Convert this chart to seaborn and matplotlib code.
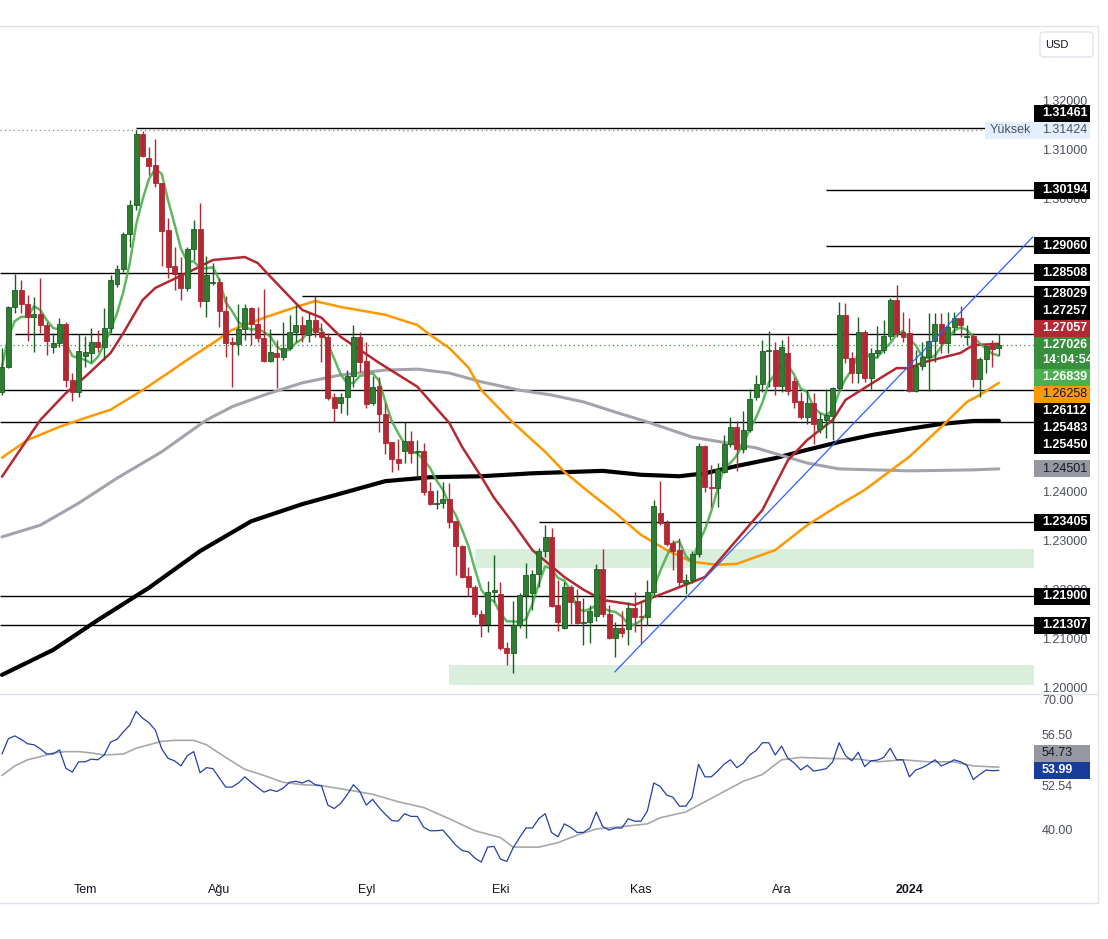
import numpy as np
import pandas as pd
import matplotlib
matplotlib.use("Agg")
import matplotlib.pyplot as plt
from matplotlib.patches import Rectangle, FancyBboxPatch
from matplotlib.lines import Line2D
import matplotlib.transforms as mtrans
import seaborn as sns

# ---------------- daily candles (GBP/USD, mid June 2023 - mid Jan 2024)
opens = [1.2607, 1.2659, 1.2781, 1.2816, 1.2787, 1.2761, 1.2767, 1.2744, 1.2699, 1.2707,
         1.2746, 1.2632, 1.2607, 1.2681, 1.2687, 1.2709, 1.2699, 1.2738, 1.2828, 1.2859,
         1.2930, 1.2989, 1.3135, 1.3086, 1.3072, 1.3034, 1.2938, 1.2865, 1.2849, 1.2820,
         1.2900, 1.2940, 1.2793, 1.2830, 1.2832, 1.2773, 1.2709, 1.2705, 1.2736, 1.2779,
         1.2746, 1.2718, 1.2671, 1.2687, 1.2679, 1.2697, 1.2730, 1.2744, 1.2724, 1.2754,
         1.2730, 1.2720, 1.2597, 1.2585, 1.2597, 1.2640, 1.2720, 1.2671, 1.2585, 1.2620,
         1.2562, 1.2505, 1.2471, 1.2487, 1.2507, 1.2485, 1.2487, 1.2405, 1.2378, 1.2380,
         1.2388, 1.2343, 1.2292, 1.2231, 1.2209, 1.2154, 1.2133, 1.2199, 1.2195, 1.2084,
         1.2074, 1.2131, 1.2193, 1.2197, 1.2235, 1.2282, 1.2311, 1.2172, 1.2125, 1.2209,
         1.2180, 1.2135, 1.2137, 1.2149, 1.2245, 1.2154, 1.2104, 1.2125, 1.2123, 1.2166,
         1.2149, 1.2147, 1.2199, 1.2360, 1.2339, 1.2298, 1.2284, 1.2217, 1.2223, 1.2276,
         1.2497, 1.2413, 1.2411, 1.2444, 1.2501, 1.2536, 1.2491, 1.2530, 1.2597, 1.2624,
         1.2691, 1.2693, 1.2620, 1.2687, 1.2630, 1.2589, 1.2556, 1.2585, 1.2532, 1.2550,
         1.2558, 1.2615, 1.2765, 1.2677, 1.2646, 1.2730, 1.2636, 1.2687, 1.2693, 1.2722,
         1.2795, 1.2730, 1.2728, 1.2609, 1.2661, 1.2679, 1.2711, 1.2746, 1.2707, 1.2740,
         1.2759, 1.2720, 1.2722, 1.2634, 1.2675, 1.2703, 1.2697]
highs = [1.2697, 1.2783, 1.2849, 1.2836, 1.2806, 1.2802, 1.2841, 1.2750, 1.2728, 1.2759,
         1.2750, 1.2646, 1.2726, 1.2722, 1.2738, 1.2734, 1.2779, 1.2847, 1.2867, 1.2934,
         1.3000, 1.3142, 1.3140, 1.3108, 1.3124, 1.3035, 1.2963, 1.2904, 1.2883, 1.2904,
         1.2959, 1.2994, 1.2885, 1.2871, 1.2841, 1.2804, 1.2720, 1.2787, 1.2787, 1.2781,
         1.2781, 1.2818, 1.2736, 1.2714, 1.2750, 1.2765, 1.2785, 1.2763, 1.2769, 1.2803,
         1.2748, 1.2728, 1.2605, 1.2605, 1.2652, 1.2744, 1.2730, 1.2709, 1.2640, 1.2638,
         1.2585, 1.2505, 1.2511, 1.2546, 1.2528, 1.2509, 1.2503, 1.2423, 1.2407, 1.2423,
         1.2421, 1.2343, 1.2294, 1.2250, 1.2213, 1.2162, 1.2221, 1.2274, 1.2219, 1.2096,
         1.2180, 1.2197, 1.2258, 1.2243, 1.2288, 1.2335, 1.2329, 1.2223, 1.2219, 1.2213,
         1.2205, 1.2186, 1.2172, 1.2256, 1.2286, 1.2172, 1.2137, 1.2160, 1.2178, 1.2199,
         1.2178, 1.2223, 1.2387, 1.2425, 1.2346, 1.2305, 1.2309, 1.2235, 1.2282, 1.2503,
         1.2499, 1.2458, 1.2462, 1.2519, 1.2556, 1.2548, 1.2569, 1.2613, 1.2642, 1.2714,
         1.2732, 1.2709, 1.2714, 1.2722, 1.2638, 1.2607, 1.2611, 1.2605, 1.2564, 1.2613,
         1.2618, 1.2791, 1.2789, 1.2689, 1.2761, 1.2734, 1.2697, 1.2742, 1.2754, 1.2800,
         1.2826, 1.2771, 1.2759, 1.2693, 1.2709, 1.2769, 1.2769, 1.2769, 1.2771, 1.2771,
         1.2783, 1.2744, 1.2728, 1.2679, 1.2703, 1.2714, 1.2726]
lows = [1.2601, 1.2657, 1.2769, 1.2769, 1.2711, 1.2689, 1.2728, 1.2683, 1.2687, 1.2699,
        1.2618, 1.2589, 1.2597, 1.2659, 1.2669, 1.2689, 1.2673, 1.2728, 1.2822, 1.2853,
        1.2904, 1.2979, 1.3088, 1.3051, 1.3026, 1.2865, 1.2841, 1.2816, 1.2795, 1.2814,
        1.2877, 1.2781, 1.2761, 1.2826, 1.2740, 1.2679, 1.2618, 1.2683, 1.2714, 1.2703,
        1.2709, 1.2669, 1.2669, 1.2616, 1.2673, 1.2693, 1.2709, 1.2709, 1.2709, 1.2720,
        1.2669, 1.2591, 1.2546, 1.2564, 1.2560, 1.2618, 1.2648, 1.2575, 1.2581, 1.2526,
        1.2481, 1.2444, 1.2448, 1.2462, 1.2462, 1.2434, 1.2397, 1.2376, 1.2368, 1.2370,
        1.2329, 1.2233, 1.2227, 1.2190, 1.2148, 1.2106, 1.2117, 1.2178, 1.2080, 1.2049,
        1.2033, 1.2125, 1.2105, 1.2162, 1.2209, 1.2270, 1.2168, 1.2119, 1.2123, 1.2133,
        1.2133, 1.2090, 1.2094, 1.2139, 1.2147, 1.2102, 1.2066, 1.2106, 1.2090, 1.2117,
        1.2094, 1.2131, 1.2190, 1.2335, 1.2292, 1.2243, 1.2209, 1.2195, 1.2217, 1.2270,
        1.2403, 1.2372, 1.2372, 1.2442, 1.2495, 1.2446, 1.2483, 1.2526, 1.2591, 1.2607,
        1.2618, 1.2601, 1.2607, 1.2601, 1.2575, 1.2552, 1.2542, 1.2501, 1.2523, 1.2513,
        1.2509, 1.2611, 1.2667, 1.2626, 1.2626, 1.2628, 1.2613, 1.2677, 1.2687, 1.2714,
        1.2720, 1.2709, 1.2607, 1.2607, 1.2652, 1.2609, 1.2669, 1.2687, 1.2687, 1.2724,
        1.2720, 1.2703, 1.2618, 1.2597, 1.2646, 1.2659, 1.2683]
closes = [1.2659, 1.2781, 1.2816, 1.2787, 1.2761, 1.2767, 1.2744, 1.2711, 1.2707, 1.2746,
          1.2632, 1.2607, 1.2691, 1.2689, 1.2709, 1.2699, 1.2738, 1.2836, 1.2859, 1.2930,
          1.2989, 1.3135, 1.3090, 1.3070, 1.3034, 1.2936, 1.2863, 1.2849, 1.2820, 1.2900,
          1.2940, 1.2793, 1.2847, 1.2832, 1.2773, 1.2707, 1.2705, 1.2736, 1.2779, 1.2746,
          1.2718, 1.2671, 1.2689, 1.2679, 1.2697, 1.2730, 1.2744, 1.2728, 1.2754, 1.2730,
          1.2720, 1.2595, 1.2575, 1.2597, 1.2640, 1.2720, 1.2669, 1.2583, 1.2618, 1.2562,
          1.2503, 1.2471, 1.2462, 1.2507, 1.2483, 1.2487, 1.2403, 1.2378, 1.2380, 1.2388,
          1.2341, 1.2292, 1.2229, 1.2209, 1.2154, 1.2133, 1.2199, 1.2203, 1.2084, 1.2074,
          1.2131, 1.2193, 1.2233, 1.2235, 1.2282, 1.2311, 1.2170, 1.2137, 1.2209, 1.2178,
          1.2135, 1.2137, 1.2160, 1.2245, 1.2154, 1.2104, 1.2125, 1.2115, 1.2166, 1.2147,
          1.2147, 1.2199, 1.2374, 1.2339, 1.2296, 1.2282, 1.2219, 1.2223, 1.2276, 1.2497,
          1.2413, 1.2411, 1.2450, 1.2501, 1.2536, 1.2491, 1.2530, 1.2593, 1.2624, 1.2691,
          1.2693, 1.2620, 1.2699, 1.2609, 1.2587, 1.2556, 1.2585, 1.2542, 1.2552, 1.2560,
          1.2615, 1.2765, 1.2677, 1.2646, 1.2730, 1.2636, 1.2687, 1.2693, 1.2722, 1.2795,
          1.2728, 1.2720, 1.2609, 1.2661, 1.2679, 1.2711, 1.2746, 1.2707, 1.2740, 1.2759,
          1.2744, 1.2722, 1.2634, 1.2675, 1.2701, 1.2695, 1.27026]

rsi = [57.77, 61.31, 61.94, 61.16, 60.13, 59.90, 58.95, 57.77, 57.77, 58.72,
       54.47, 53.60, 55.96, 55.96, 56.59, 56.43, 57.54, 60.53, 61.16, 62.89,
       64.46, 67.61, 66.04, 65.01, 63.28, 58.95, 56.75, 56.20, 55.02, 57.38,
       58.32, 53.44, 54.62, 54.39, 52.26, 50.14, 50.14, 51.08, 52.50, 51.24,
       50.06, 48.96, 49.51, 49.11, 49.90, 51.24, 51.47, 51.08, 51.71, 50.69,
       50.45, 45.97, 45.18, 46.36, 48.33, 50.69, 49.11, 45.97, 47.30, 45.41,
       43.84, 42.42, 42.27, 44.00, 43.37, 43.37, 40.85, 40.06, 40.06, 40.22,
       38.49, 36.76, 35.50, 35.18, 33.77, 32.82, 36.28, 36.44, 33.53, 32.98,
       36.13, 38.49, 40.69, 40.69, 42.82, 44.00, 39.67, 38.65, 41.64, 40.85,
       39.67, 39.67, 40.69, 44.39, 41.01, 40.22, 40.69, 40.69, 42.82, 42.27,
       42.27, 44.63, 51.08, 50.29, 48.33, 47.78, 45.73, 45.73, 47.78, 55.41,
       52.50, 52.50, 53.84, 55.41, 56.43, 54.62, 55.65, 57.54, 58.56, 60.37,
       60.37, 57.54, 59.58, 56.75, 55.65, 54.07, 55.17, 53.84, 54.07, 54.39,
       55.96, 60.37, 57.38, 56.20, 58.17, 54.86, 56.20, 56.36, 56.98, 59.11,
       56.43, 56.43, 52.50, 54.07, 54.62, 55.41, 56.43, 55.02, 55.65, 56.43,
       55.96, 55.17, 51.87, 53.05, 54.07, 53.91, 53.99]
rsi_ma_idx = [0, 2, 4, 6, 8, 10, 12, 14, 16, 19, 21, 25, 27, 30, 32, 35, 38, 41, 44, 47,
              50, 54, 58, 62, 66, 70, 74, 78, 80, 84, 87, 90, 93, 97, 101, 103, 107, 110,
              113, 116, 119, 122, 125, 129, 134, 137, 141, 145, 149, 152, 156]
rsi_ma_val = [52.81, 55.02, 56.43, 57.14, 58.01, 58.32, 58.32, 58.01, 57.54, 57.77,
              59.11, 60.68, 60.92, 60.92, 59.90, 56.98, 54.23, 52.81, 51.24, 50.69,
              50.45, 49.51, 48.48, 46.75, 45.41, 42.82, 40.06, 38.49, 36.28, 36.28,
              37.31, 39.04, 40.46, 41.01, 41.64, 43.05, 44.39, 46.75, 49.11, 51.47,
              53.05, 56.43, 56.98, 56.75, 56.59, 55.96, 56.43, 55.96, 55.96, 55.02, 54.73]

# ---------------- moving averages (candle index, price)
ma20_idx = [0, 6, 10, 13, 17, 19, 22, 24, 29, 33, 38, 40, 42, 45, 47, 50, 53, 59, 65, 70,
            72, 75, 77, 80, 83, 88, 91, 94, 99, 102, 105, 110, 114, 119, 123, 126, 130, 132,
            137, 140, 142, 144, 150, 152, 156]
ma20_val = [1.2434, 1.2550, 1.2605, 1.2638, 1.2687, 1.2728, 1.2795, 1.2820, 1.2851, 1.2877,
            1.2883, 1.2871, 1.2843, 1.2802, 1.2775, 1.2759, 1.2720, 1.2667, 1.2618, 1.2544,
            1.2495, 1.2434, 1.2391, 1.2339, 1.2284, 1.2229, 1.2203, 1.2182, 1.2172, 1.2188,
            1.2203, 1.2229, 1.2290, 1.2366, 1.2468, 1.2509, 1.2550, 1.2591, 1.2632, 1.2656,
            1.2656, 1.2667, 1.2687, 1.2703, 1.27057]
ma50_idx = [0, 4, 9, 13, 17, 22, 26, 29, 33, 36, 41, 46, 49, 53, 60, 65, 67, 70, 73, 75,
            80, 85, 88, 92, 96, 100, 104, 108, 112, 115, 121, 126, 131, 135, 142, 147, 151,
            153, 156]
ma50_val = [1.2473, 1.2509, 1.2536, 1.2554, 1.2571, 1.2611, 1.2646, 1.2673, 1.2707, 1.2734,
            1.2759, 1.2781, 1.2793, 1.2781, 1.2765, 1.2744, 1.2724, 1.2697, 1.2657, 1.2611,
            1.2544, 1.2485, 1.2444, 1.2401, 1.2360, 1.2315, 1.2284, 1.2260, 1.2254, 1.2256,
            1.2284, 1.2335, 1.2376, 1.2407, 1.2475, 1.2536, 1.2587, 1.2601, 1.26258]
ma100_idx = [0, 6, 12, 18, 25, 32, 36, 41, 47, 53, 60, 65, 70, 75, 81, 86, 91, 96, 101,
             108, 118, 126, 131, 142, 152, 156]
ma100_val = [1.2311, 1.2335, 1.2380, 1.2431, 1.2485, 1.2550, 1.2577, 1.2601, 1.2626, 1.2642,
             1.2652, 1.2654, 1.2646, 1.2628, 1.2611, 1.2601, 1.2587, 1.2566, 1.2546, 1.2515,
             1.2493, 1.2462, 1.2450, 1.2446, 1.2448, 1.24501]
ma200_idx = [0, 8, 15, 23, 31, 39, 47, 52, 60, 67, 75, 83, 94, 100, 106, 110, 115, 121,
             126, 131, 136, 142, 147, 152, 156]
ma200_val = [1.2029, 1.2080, 1.2141, 1.2207, 1.2282, 1.2343, 1.2378, 1.2396, 1.2425, 1.2433,
             1.2435, 1.2441, 1.2446, 1.2438, 1.2435, 1.2441, 1.2456, 1.2472, 1.2489, 1.2505,
             1.2519, 1.2532, 1.2542, 1.2548, 1.25483]

# ---------------- drawings
level_prices = [1.31461, 1.30194, 1.29060, 1.28508, 1.28029, 1.27257, 1.26112, 1.25450,
                1.23405, 1.21900, 1.21307]
level_from = [21, 129, 129, None, 47, 2, None, None, 84, None, None]
zone_lo = [1.2248, 1.2009]
zone_hi = [1.2287, 1.2050]
zone_from = [74, 70]
trend_x = [95.9, 161.3]
trend_y = [1.2035, 1.2924]

last_price = 1.27026
high_price = 1.31424
countdown = "14:04:54"

month_names = ["Tem", "Ağu", "Eyl", "Eki", "Kas", "Ara", "2024"]
month_idx = [13, 34, 57, 78, 100, 122, 142]

price_ticks = [1.32, 1.31, 1.30, 1.29, 1.28, 1.27, 1.26, 1.25, 1.24, 1.23, 1.22, 1.21, 1.20]
tag_vals = [1.31461, 1.31424, 1.30194, 1.29060, 1.28508, 1.28029, 1.27257, 1.27057, 1.27026,
            1.26839, 1.26258, 1.26112, 1.25483, 1.25450, 1.24501, 1.23405, 1.21900, 1.21307]
tag_kind = ["line", "high", "line", "line", "line", "line", "line", "ma20", "last",
            "ma5", "ma50", "line", "line", "line", "ma100", "line", "line", "line"]

rsi_ticks = [70, 40]
rsi_tag_vals = [56.50, 54.73, 53.99, 52.54]
rsi_tag_kind = ["plain", "rsima", "rsi", "plain"]

# ---------------- colours
UP, UP_EDGE = "#2e7d32", "#1b5e20"
DN = "#b22833"
C_MA5, C_MA20, C_MA50, C_MA100, C_MA200 = "#4caf50", "#b22833", "#ff9800", "#a3a3ad", "#000000"
TXT = "#4a4f5c"
GRID = "#e0e3eb"
tag_style = {
    "line": ("#000000", "white", "bold"),
    "high": ("#e3effd", "#4a4f5c", "normal"),
    "ma20": (C_MA20, "white", "bold"),
    "last": ("#388e3c", "white", "bold"),
    "ma5": (C_MA5, "white", "bold"),
    "ma50": (C_MA50, "#131722", "normal"),
    "ma100": ("#9598a1", "#131722", "normal"),
    "rsima": ("#9598a1", "#131722", "normal"),
    "rsi": ("#173c9c", "white", "bold"),
    "plain": (None, TXT, "normal"),
}
ANCHORS = ("last", "high", "rsi")

sns.set_theme(style="white")
plt.rcParams["font.family"] = ["Liberation Sans", "DejaVu Sans"]

W, H = 1108, 939
fig = plt.figure(figsize=(W / 100, H / 100), dpi=100)
fig.patch.set_facecolor("white")


def fx(px):
    return px / W


def fy(py):
    return 1 - py / H


PLOT_R = 1034
ax = fig.add_axes([0, fy(693), fx(PLOT_R), fy(26) - fy(693)])
rx = fig.add_axes([0, fy(880), fx(PLOT_R), fy(694) - fy(880)], sharex=ax)
for a in (ax, rx):
    a.set_facecolor("white")
    for s in a.spines.values():
        s.set_visible(False)
ax.set_xlim(-0.31, 161.5)
ax.set_ylim(1.199191, 1.335536)
rx.set_ylim(28.69, 71.615)

df = pd.DataFrame({"o": opens, "h": highs, "l": lows, "c": closes, "rsi": rsi})
df["i"] = np.arange(len(df))
df["h"] = df[["h", "o", "c"]].max(axis=1)
df["l"] = df[["l", "o", "c"]].min(axis=1)
x_left, x_right = ax.get_xlim()

# zones
for lo, hi, st in zip(zone_lo, zone_hi, zone_from):
    ax.add_patch(Rectangle((st, lo), x_right - st, hi - lo, facecolor="#d9eedb",
                           edgecolor="none", zorder=1))

# horizontal levels
for p, st in zip(level_prices, level_from):
    ax.hlines(p, x_left if st is None else st, x_right, color="black", lw=1.0, zorder=2)
ax.axhline(high_price, color="#8a8a8a", lw=0.9, ls=(0, (1, 2.5)), zorder=2)
ax.axhline(last_price, color="#388e3c", lw=0.9, ls=(0, (1, 2.5)), zorder=2)

# moving averages
df["ma5"] = df["c"].rolling(5, min_periods=1).mean()
sns.lineplot(x=ma200_idx, y=ma200_val, ax=ax, color=C_MA200, lw=3.0, zorder=3, legend=False)
sns.lineplot(x=ma100_idx, y=ma100_val, ax=ax, color=C_MA100, lw=2.2, zorder=3, legend=False)
sns.lineplot(x=ma50_idx, y=ma50_val, ax=ax, color=C_MA50, lw=1.8, zorder=3, legend=False)
sns.lineplot(x=ma20_idx, y=ma20_val, ax=ax, color=C_MA20, lw=1.8, zorder=3, legend=False)
sns.lineplot(x=df["i"], y=df["ma5"], ax=ax, color=C_MA5, lw=1.8, alpha=0.9, zorder=3, legend=False)

# candles
up = df["c"] >= df["o"]
for mask, face, edge in [(up, UP, UP_EDGE), (~up, DN, DN)]:
    d = df[mask]
    ax.vlines(d["i"], d["l"], d["h"], color=edge, lw=1.0, zorder=4)
    body = (d["c"] - d["o"]).abs().clip(lower=0.00018)
    ax.bar(d["i"], body, bottom=d[["o", "c"]].min(axis=1), width=0.78, color=face,
           edgecolor=edge, lw=0.6, zorder=5)

# trend line
ax.plot(trend_x, trend_y, color="#2962ff", lw=0.9, zorder=6)

# RSI pane
sns.lineplot(x=rsi_ma_idx, y=rsi_ma_val, ax=rx, color="#a8a8a8", lw=1.2, legend=False)
sns.lineplot(x=df["i"], y=df["rsi"], ax=rx, color="#2340a8", lw=0.9, legend=False)
for a in (ax, rx):
    a.set_xlabel("")
    a.set_ylabel("")
    a.set_xticks([])
    a.set_yticks([])

# frame lines
for seg in [((0, 1098), (26, 26)), ((0, 1098), (693.5, 693.5)), ((0, 1098), (903, 903)),
            ((1098, 1098), (26, 903))]:
    fig.add_artist(Line2D([fx(v) for v in seg[0]], [fy(v) for v in seg[1]],
                          color=GRID, lw=1.0, zorder=1))


def to_px(a, v):
    return H - a.transData.transform((0, v))[1]


TAG_H, LAST_H, OFF = 17, 32, 8.5


def place_tags(desired, kinds):
    # price-scale labels: anchored ones stay put, the rest are pushed away from them
    hs = [LAST_H if k == "last" else TAG_H for k in kinds]
    anchors = [k for k in range(len(kinds)) if kinds[k] in ANCHORS]
    pos = {k: desired[k] for k in anchors}

    def box(k, p):
        return p - OFF, p - OFF + hs[k]

    rest = [k for k in range(len(kinds)) if k not in pos]
    rest.sort(key=lambda k: min(abs(desired[k] - desired[a]) for a in anchors))
    for k in rest:
        p, direction = desired[k], 0
        for _ in range(60):
            t, b = box(k, p)
            hit = None
            for j, pj in pos.items():
                tj, bj = box(j, pj)
                if t < bj - 0.01 and b > tj + 0.01:
                    hit = j
                    break
            if hit is None:
                break
            if direction == 0:
                direction = -1 if desired[k] < desired[hit] else 1
            tj, bj = box(hit, pos[hit])
            p = tj - (hs[k] - OFF) if direction < 0 else bj + OFF
        pos[k] = p
    return [pos[k] for k in range(len(kinds))], hs


FS = 9
TAG_L, TAG_R, TXT_X = 1034, 1090, 1042


def draw_tags(a, vals, kinds, fmt, ticks, tick_fmt):
    pos, hs = place_tags([to_px(a, v) for v in vals], kinds)
    boxes = []
    for v, k, py, h in zip(vals, kinds, pos, hs):
        bg, fg, wt = tag_style[k]
        fig.text(fx(TXT_X), fy(py), fmt(v), color=fg, fontsize=FS, weight=wt,
                 va="center", ha="left", zorder=3)
        if bg is None:
            continue
        boxes.append((py - OFF, py - OFF + h))
        fig.add_artist(Rectangle((fx(TAG_L), fy(py - OFF + h)), fx(TAG_R) - fx(TAG_L), h / H,
                                 transform=fig.transFigure, facecolor=bg,
                                 edgecolor="none", zorder=2))
        if k == "last":
            fig.text(fx(TXT_X), fy(py + 15), countdown, color=fg, fontsize=FS, weight=wt,
                     va="center", ha="left", zorder=3)
        if k == "high":
            fig.add_artist(Rectangle((fx(985), fy(py - OFF + h)), fx(TAG_L) - fx(985), h / H,
                                     transform=fig.transFigure, facecolor=bg,
                                     edgecolor="none", zorder=2))
            fig.text(fx(990), fy(py), "Yüksek", color=fg, fontsize=FS, va="center",
                     ha="left", zorder=3)
    # plain scale ticks, left out where a tag hides them
    for v in ticks:
        py = to_px(a, v)
        if any(t + 4.5 < py < b - 4.5 for t, b in boxes):
            continue
        fig.text(fx(TXT_X), fy(py), tick_fmt(v), color=TXT, fontsize=FS,
                 va="center", ha="left", zorder=1)


draw_tags(ax, tag_vals, tag_kind, lambda v: f"{v:.5f}", price_ticks, lambda v: f"{v:.5f}")
draw_tags(rx, rsi_tag_vals, rsi_tag_kind, lambda v: f"{v:.2f}", rsi_ticks, lambda v: f"{v:.2f}")

# currency box
fig.add_artist(FancyBboxPatch((fx(1040), fy(57)), fx(1093) - fx(1040), fy(32) - fy(57),
                              boxstyle="round,pad=0,rounding_size=0.004",
                              transform=fig.transFigure, facecolor="white",
                              edgecolor=GRID, lw=1.0, zorder=2))
fig.text(fx(1057), fy(44.5), "USD", color="#131722", fontsize=8, va="center",
         ha="center", zorder=3)

# month labels
tr = mtrans.blended_transform_factory(ax.transData, fig.transFigure)
for name, i in zip(month_names, month_idx):
    ax.text(i, fy(890), name, transform=tr, ha="center", va="center", fontsize=FS,
            color="#131722", weight="bold" if name == "2024" else "normal", clip_on=False)

fig.savefig("out.png", dpi=100, facecolor="white")
